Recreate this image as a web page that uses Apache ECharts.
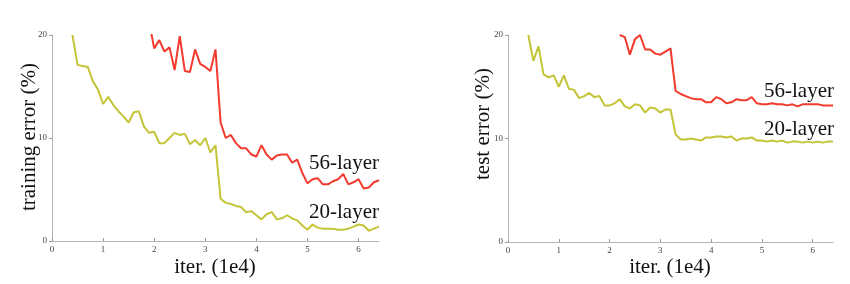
<!DOCTYPE html>
<html>
<head>
<meta charset="utf-8">
<script src="https://cdn.jsdelivr.net/npm/echarts@6/dist/echarts.min.js"></script>
<style>
html,body{margin:0;padding:0;background:#fff;}
#chart{width:850px;height:284px;}
</style>
</head>
<body>
<div id="chart"></div>
<script>
// iteration positions (1e4)
var iters = [0.4,0.5,0.6,0.7,0.8,0.9,1.0,1.1,1.2,1.3,1.4,1.5,1.6,1.7,1.8,1.9,2.0,2.1,2.2,2.3,2.4,2.5,2.6,2.7,2.8,2.9,3.0,3.1,3.2,3.3,3.4,3.5,3.6,3.7,3.8,3.9,4.0,4.1,4.2,4.3,4.4,4.5,4.6,4.7,4.8,4.9,5.0,5.1,5.2,5.3,5.4,5.5,5.6,5.7,5.8,5.9,6.0,6.1,6.2,6.3,6.4];
var xTicks = [0,1,2,3,4,5,6];
var yTicks = [0,10,20];

// training error (%)
var train20 = [20.0,17.1,17.0,16.9,15.5,14.7,13.3,14.0,13.2,12.6,12.1,11.5,12.5,12.6,11.1,10.5,10.6,9.5,9.5,10.0,10.5,10.3,10.4,9.4,9.8,9.3,10.0,8.6,9.3,4.1,3.7,3.6,3.4,3.3,2.8,2.9,2.5,2.1,2.6,2.8,2.1,2.2,2.5,2.2,2.0,1.5,1.1,1.6,1.3,1.2,1.2,1.2,1.1,1.1,1.2,1.4,1.6,1.5,1.0,1.2,1.4];
var train56Iters = iters.slice(15); // from 1.9
var train56 = [21.3,18.7,19.5,18.4,18.8,16.6,19.9,16.5,16.4,18.6,17.2,16.9,16.5,18.6,11.5,10.0,10.3,9.5,9.0,9.0,8.4,8.2,9.3,8.4,7.9,8.3,8.4,8.4,7.6,7.9,6.6,5.6,6.0,6.1,5.5,5.5,5.8,6.0,6.5,5.5,5.7,6.0,5.1,5.2,5.7,5.9];

// test error (%)
var test20 = [20.0,17.5,18.9,16.2,15.9,16.1,15.0,16.1,14.8,14.7,13.9,14.1,14.4,14.0,14.1,13.2,13.2,13.4,13.8,13.1,12.9,13.3,13.2,12.5,13.0,12.9,12.5,12.8,12.8,10.4,9.9,9.9,10.0,9.9,9.8,10.1,10.1,10.2,10.2,10.1,10.2,9.8,10.0,10.0,10.1,9.8,9.8,9.7,9.8,9.7,9.8,9.6,9.7,9.7,9.6,9.7,9.6,9.7,9.6,9.7,9.7];
var test56Iters = iters.slice(18); // from 2.2
var test56 = [20.0,19.8,18.1,19.6,20.0,18.6,18.6,18.2,18.1,18.4,18.7,14.6,14.3,14.1,13.9,13.8,13.8,13.5,13.5,14.0,13.8,13.4,13.5,13.8,13.7,13.7,14.0,13.4,13.3,13.3,13.4,13.3,13.3,13.2,13.3,13.1,13.3,13.3,13.3,13.3,13.2,13.2,13.2];

var seriesNames = ['20-layer','56-layer'];
var xTitle = 'iter. (1e4)';
var yTitles = ['training error (%)','test error (%)'];

function pairs(xs, ys){ return xs.map(function(x,i){ return [x, ys[i]]; }); }

var SERIF = '"Liberation Serif","Times New Roman",Times,serif';
var RED = '#f23a2e';
var YEL = '#c4c438';

function xAxisCfg(idx){
  return {
    gridIndex: idx, type:'value', min:0, max:6.4, interval:1,
    axisLine:{show:true, lineStyle:{color:'#b4b4b4', width:1}},
    axisTick:{show:true, inside:true, length:3, lineStyle:{color:'#999'}, customValues:xTicks},
    axisLabel:{color:'#444', fontFamily:SERIF, fontSize:9, margin:4, customValues:xTicks},
    splitLine:{show:false}
  };
}
function yAxisCfg(idx){
  return {
    gridIndex: idx, type:'value', min:0, max:20, interval:10,
    axisLine:{show:true, lineStyle:{color:'#b4b4b4', width:1}},
    axisTick:{show:true, inside:false, length:3, lineStyle:{color:'#999'}},
    axisLabel:{color:'#444', fontFamily:SERIF, fontSize:9, margin:5},
    splitLine:{show:false}
  };
}
function lineSeries(name, xi, data, color){
  return {
    name:name, type:'line', xAxisIndex:xi, yAxisIndex:xi,
    data:data, showSymbol:false, symbol:'none', clip:true,
    lineStyle:{color:color, width:2}, itemStyle:{color:color},
    animation:false
  };
}
function txt(x, y, s, size, align, rot){
  return {
    type:'text', x:x, y:y, rotation: rot||0,
    style:{text:s, fontFamily:SERIF, fontSize:size, fill:'#111',
      align:align||'center', verticalAlign:'middle'}
  };
}

var chart = echarts.init(document.getElementById('chart'), null, {renderer:'canvas'});
chart.setOption({
  animation:false,
  backgroundColor:'#fff',
  grid:[
    {left:52, top:35, width:327, height:206},
    {left:508, top:35, width:325, height:207}
  ],
  xAxis:[xAxisCfg(0), xAxisCfg(1)],
  yAxis:[yAxisCfg(0), yAxisCfg(1)],
  series:[
    lineSeries(seriesNames[1], 0, pairs(train56Iters, train56), RED),
    lineSeries(seriesNames[0], 0, pairs(iters, train20), YEL),
    lineSeries(seriesNames[1], 1, pairs(test56Iters, test56), RED),
    lineSeries(seriesNames[0], 1, pairs(iters, test20), YEL)
  ],
  graphic:[
    txt(29, 137, yTitles[0], 21, 'center', Math.PI/2),
    txt(483, 124, yTitles[1], 21, 'center', Math.PI/2),
    txt(215, 267, xTitle, 21, 'center'),
    txt(670, 267, xTitle, 21, 'center'),
    txt(379, 163, seriesNames[1], 21, 'right'),
    txt(379, 212, seriesNames[0], 21, 'right'),
    txt(834, 91, seriesNames[1], 21, 'right'),
    txt(834, 129, seriesNames[0], 21, 'right')
  ]
});
</script>
</body>
</html>
